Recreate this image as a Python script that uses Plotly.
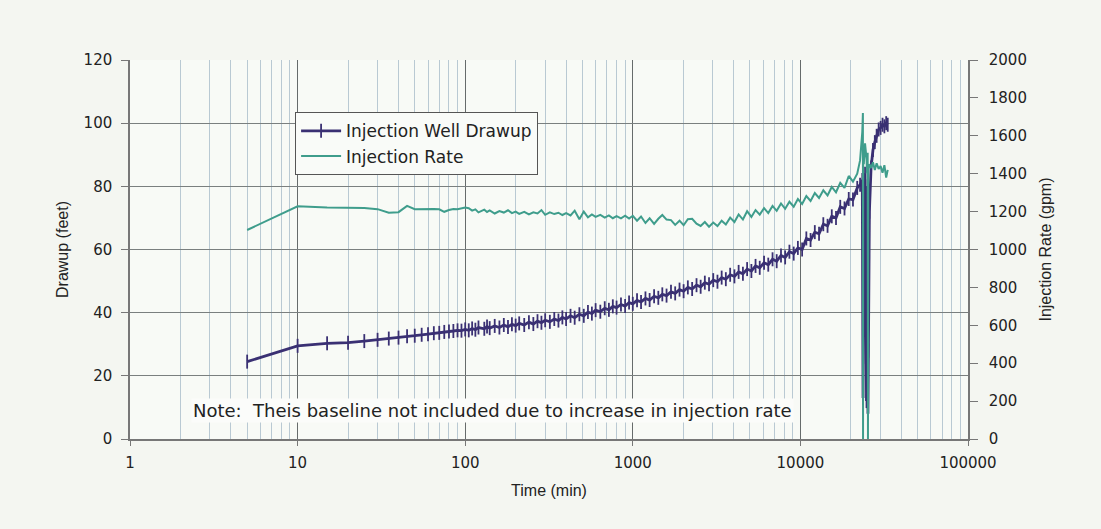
import plotly.graph_objects as go

# ---- data ----
time_min = [5, 10, 15, 20, 25, 30, 35, 40, 45, 50, 55, 60, 65, 70, 75, 80, 85, 90, 95, 100,
            105, 110, 115, 120, 130, 135, 140, 150, 160, 170, 180, 190, 200, 210, 225, 240, 255, 270, 285, 300,
            320, 340, 360, 380, 400, 425, 450, 480, 510, 540, 570, 600, 640, 680, 720, 760, 800, 850, 900, 950,
            1000, 1060, 1120, 1190, 1260, 1340, 1420, 1500, 1590, 1690, 1790, 1900, 2010, 2130, 2260, 2400,
            2540, 2690, 2850, 3020, 3200, 3390, 3590, 3810, 4040, 4280, 4540, 4810, 5100, 5400, 5720, 6070,
            6430, 6820, 7220, 7660, 8110, 8600, 9120, 9660, 10240, 10850, 11500, 12190, 12920, 13700, 14520,
            15390, 16310, 17290, 18330, 19430, 20590, 21830, 22700, 23400, 23600, 23650, 23700, 23900, 24300,
            24800, 25000, 25200, 25300, 25400, 25800, 26400, 27100, 27800, 28500, 29300, 30100, 30900, 31700,
            32500, 33200]

drawup_ft = [24.5, 29.5, 30.3, 30.5, 31.0, 31.4, 31.8, 32.1, 32.5, 32.7, 33.0, 33.2, 33.5, 33.6, 33.9, 34.0, 34.2, 34.4, 34.3, 34.7,
             34.4, 35.0, 34.6, 35.3, 34.9, 35.6, 35.1, 35.8, 35.3, 36.1, 35.5, 36.3, 35.9, 36.6, 36.1, 37.0, 36.4, 37.3, 36.8, 37.6,
             37.1, 38.0, 37.5, 38.5, 38.0, 39.0, 38.4, 39.5, 39.0, 40.2, 39.7, 40.8, 40.3, 41.4, 40.9, 42.0, 41.6, 42.6, 42.1, 43.2,
             42.8, 43.9, 43.4, 44.5, 44.0, 45.2, 44.7, 45.8, 45.4, 46.6, 46.1, 47.3, 46.8, 48.0, 47.5, 48.7,
             48.2, 49.5, 49.0, 50.3, 49.8, 51.1, 50.6, 52.0, 51.5, 52.9, 52.3, 53.8, 53.2, 54.8, 54.2, 55.8,
             55.2, 56.9, 56.3, 58.1, 57.5, 59.3, 58.7, 60.5, 60.0, 63.5, 63.0, 65.5, 65.0, 68.0, 67.5,
             70.5, 70.0, 73.5, 73.0, 76.0, 75.8, 79.5, 80.5, 82.0, 42.0, 13.0, 26.0, 82.0, 84.0,
             12.0, 36.7, 80.0, 8.0, 28.0, 72.0, 86.0, 91.5, 94.0, 96.0, 98.0, 98.5, 99.5, 99.0,
             100.0, 99.5]

rate_gpm = [1103, 1228, 1222, 1220, 1219, 1213, 1194, 1197, 1230, 1213, 1214, 1213, 1214, 1212, 1199, 1208, 1214, 1212, 1219, 1222,
            1218, 1205, 1212, 1196, 1210, 1198, 1206, 1190, 1203, 1195, 1207, 1192, 1200, 1188, 1199, 1185, 1196, 1190, 1208, 1183,
            1196, 1187, 1194, 1182, 1192, 1180, 1205, 1160, 1200, 1170, 1185, 1172, 1183, 1168, 1180, 1165, 1176, 1164, 1178, 1163,
            1178, 1152, 1174, 1140, 1165, 1135, 1162, 1182, 1158, 1155, 1130, 1152, 1128, 1160, 1162, 1136,
            1124, 1145, 1120, 1142, 1124, 1152, 1132, 1168, 1145, 1185, 1158, 1202, 1172, 1208, 1184, 1218,
            1192, 1230, 1204, 1243, 1215, 1252, 1226, 1266, 1240, 1282, 1256, 1298, 1272, 1312, 1285,
            1330, 1302, 1352, 1325, 1388, 1358, 1400, 1470, 1620, 1720, 0, 1550, 1450, 1560,
            1480, 1400, 1510, 0, 1420, 1450, 1430, 1460, 1420, 1455, 1425, 1440, 1405, 1445,
            1380, 1420]

x_tick_vals = [1, 10, 100, 1000, 10000, 100000]
x_tick_text = ["1", "10", "100", "1000", "10000", "100000"]

note_text = "Note:  Theis baseline not included due to increase in injection rate"

FONT = "DejaVu Sans, Liberation Sans, Arial, sans-serif"
NARROW = "Liberation Sans Narrow, Liberation Sans, Arial, sans-serif"
MAJOR = "#7a7f7f"
MINOR = "#b9c9d3"

fig = go.Figure()
fig.add_trace(go.Scatter(
    x=time_min, y=drawup_ft, name="Injection Well Drawup", mode="lines+markers",
    line=dict(color="#3a3073", width=2.8),
    marker=dict(symbol="line-ns", size=10, line=dict(color="#3a3073", width=1.8)),
    yaxis="y"))
fig.add_trace(go.Scatter(
    x=time_min, y=rate_gpm, name="Injection Rate", mode="lines",
    line=dict(color="#3f9d8c", width=2),
    yaxis="y2"))

fig.update_layout(
    width=1101, height=529,
    margin=dict(l=130, r=133, t=60, b=90),
    paper_bgcolor="#f4f6f1", plot_bgcolor="#f8faf6",
    font=dict(family=FONT, size=15, color="#222"),
    showlegend=True,
    legend=dict(x=0.197, y=0.862, xanchor="left", yanchor="top",
                bgcolor="#f9fbf8", bordercolor="#555", borderwidth=1,
                font=dict(family=FONT, size=17, color="#222"),
                tracegroupgap=0, itemwidth=40),
    xaxis=dict(type="log", range=[0, 5], tickvals=x_tick_vals, ticktext=x_tick_text,
               showgrid=True, gridcolor="#666b6b", gridwidth=1,
               minor=dict(dtick="D1", showgrid=True, gridcolor=MINOR, gridwidth=1, ticks=""),
               showline=True, linecolor="#777", linewidth=1.5,
               ticks="outside", ticklen=5, tickcolor="#777", ticklabelstandoff=4,
               zeroline=False,
               title=dict(text="Time (min)", font=dict(family=NARROW, size=16), standoff=14)),
    yaxis=dict(range=[0, 120], dtick=20, showgrid=True, gridcolor=MAJOR, gridwidth=1,
               showline=True, linecolor="#777", linewidth=1.5, ticks="outside", ticklen=7,
               tickcolor="#777", ticklabelstandoff=6, zeroline=False,
               title=dict(text="Drawup (feet)", font=dict(family=NARROW, size=16), standoff=11)),
    yaxis2=dict(range=[0, 2000], dtick=200, overlaying="y", side="right", showgrid=False,
                showline=True, linecolor="#777", linewidth=1.5, ticks="outside", ticklen=8,
                tickcolor="#777", ticklabelstandoff=8, zeroline=False,
                title=dict(text="Injection Rate (gpm)", font=dict(family=NARROW, size=16), standoff=14)),
)

fig.add_annotation(text=note_text, xref="paper", yref="paper", x=0.0728, y=0.0765,
                   xanchor="left", yanchor="middle", showarrow=False,
                   font=dict(family=FONT, size=18, color="#222"),
                   bgcolor="#fbfcfa", borderpad=1)

fig.write_html("out.html", config={"displayModeBar": False},
               post_script="document.body.style.margin='0';")
